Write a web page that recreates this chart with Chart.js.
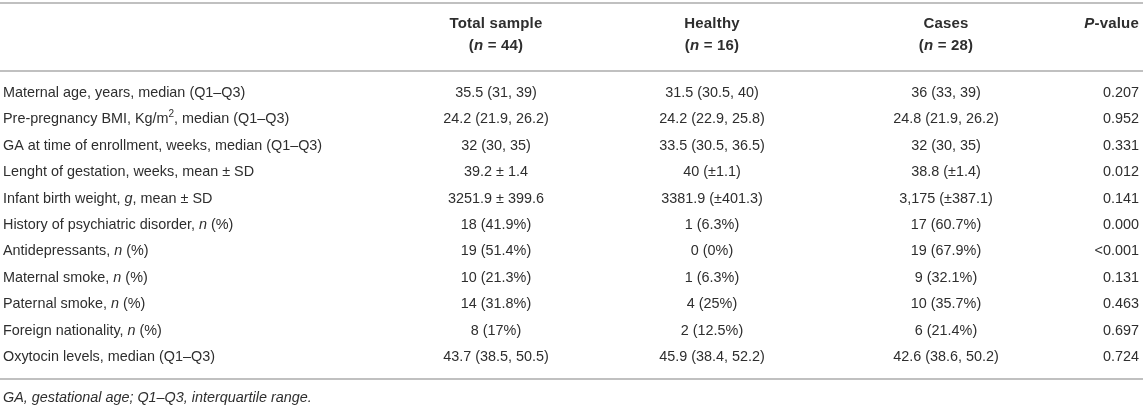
<!DOCTYPE html>
<html>
<head>
<meta charset="utf-8">
<script src="https://cdn.jsdelivr.net/npm/chart.js@4/dist/chart.umd.min.js"></script>
<style>
  html, body { margin: 0; padding: 0; background: #fff; }
  #tableChart { display: block; }
</style>
</head>
<body>
<canvas id="tableChart" width="1143" height="406"></canvas>
<script>
// table content (*x* = italic, ^x^ = superscript)
const headTop = ['', 'Total sample', 'Healthy', 'Cases', '*P*-value'];
const headBottom = ['', '(*n* = 44)', '(*n* = 16)', '(*n* = 28)', ''];

const rowLabels = [
  'Maternal age, years, median (Q1–Q3)',
  'Pre-pregnancy BMI, Kg/m^2^, median (Q1–Q3)',
  'GA at time of enrollment, weeks, median (Q1–Q3)',
  'Lenght of gestation, weeks, mean ± SD',
  'Infant birth weight, *g*, mean ± SD',
  'History of psychiatric disorder, *n* (%)',
  'Antidepressants, *n* (%)',
  'Maternal smoke, *n* (%)',
  'Paternal smoke, *n* (%)',
  'Foreign nationality, *n* (%)',
  'Oxytocin levels, median (Q1–Q3)'
];
const totalSample = ['35.5 (31, 39)', '24.2 (21.9, 26.2)', '32 (30, 35)', '39.2 ± 1.4', '3251.9 ± 399.6',
  '18 (41.9%)', '19 (51.4%)', '10 (21.3%)', '14 (31.8%)', '8 (17%)', '43.7 (38.5, 50.5)'];
const healthy = ['31.5 (30.5, 40)', '24.2 (22.9, 25.8)', '33.5 (30.5, 36.5)', '40 (±1.1)', '3381.9 (±401.3)',
  '1 (6.3%)', '0 (0%)', '1 (6.3%)', '4 (25%)', '2 (12.5%)', '45.9 (38.4, 52.2)'];
const cases = ['36 (33, 39)', '24.8 (21.9, 26.2)', '32 (30, 35)', '38.8 (±1.4)', '3,175 (±387.1)',
  '17 (60.7%)', '19 (67.9%)', '9 (32.1%)', '10 (35.7%)', '6 (21.4%)', '42.6 (38.6, 50.2)'];
const pValues = ['0.207', '0.952', '0.331', '0.012', '0.141', '0.000', '<0.001', '0.131', '0.463', '0.697', '0.724'];
const footnote = '*GA, gestational age; Q1–Q3, interquartile range.*';

// layout (scale units: x in px across the table, y in row index)
const colAnchor = [3, 496, 712, 946, 1139];
const colAlign = ['left', 'center', 'center', 'center', 'right'];
const headRows = [-2.62, -1.8];
const ruleRows = [-3.41, -0.83, 10.83];
const footRow = 11.55;

const FONT = '"Liberation Sans", Arial, Helvetica, sans-serif';
const INK = '#2e2e2e';

function parseRich(str) {
  return str.split(/(\*[^*]+\*|\^[^^]+\^)/).filter(s => s).map(s => {
    if (s[0] === '*') return { text: s.slice(1, -1), italic: true };
    if (s[0] === '^') return { text: s.slice(1, -1), sup: true };
    return { text: s };
  });
}

function drawRich(ctx, str, x, y, align, bold) {
  const segs = parseRich(str);
  const size = bold ? 15 : 14.4;
  const fontFor = seg => (seg.italic ? 'italic ' : '') + (bold ? 'bold ' : '') +
    (seg.sup ? 10 : size) + 'px ' + FONT;
  ctx.letterSpacing = bold ? '0.2px' : '0px';
  let width = 0;
  segs.forEach(seg => { ctx.font = fontFor(seg); seg.w = ctx.measureText(seg.text).width; width += seg.w; });
  let cx = x;
  if (align === 'center') cx = x - width / 2;
  if (align === 'right') cx = x - width;
  ctx.textAlign = 'left';
  ctx.textBaseline = 'middle';
  ctx.fillStyle = INK;
  segs.forEach(seg => {
    ctx.font = fontFor(seg);
    ctx.fillText(seg.text, cx, seg.sup ? y - 5 : y);
    cx += seg.w;
  });
}

// one dataset per column, one point per cell
const columns = [rowLabels, totalSample, healthy, cases, pValues];
const datasets = columns.map((col, c) => ({
  label: 'col' + c,
  data: col.map((txt, r) => ({ x: colAnchor[c], y: r })),
  texts: col,
  pointRadius: 0,
  pointHoverRadius: 0
}));

const tablePlugin = {
  id: 'tablePlugin',
  afterDatasetsDraw(chart) {
    const ctx = chart.ctx;
    const { x: xs, y: ys } = chart.scales;
    const area = chart.chartArea;
    ctx.save();

    // horizontal rules
    ctx.strokeStyle = '#ababab';
    ctx.lineWidth = 1.5;
    ruleRows.forEach(r => {
      const py = ys.getPixelForValue(r);
      ctx.beginPath();
      ctx.moveTo(area.left, py);
      ctx.lineTo(area.right, py);
      ctx.stroke();
    });

    // header
    headTop.forEach((t, c) => {
      if (t) drawRich(ctx, t, xs.getPixelForValue(colAnchor[c]), ys.getPixelForValue(headRows[0]), colAlign[c], true);
    });
    headBottom.forEach((t, c) => {
      if (t) drawRich(ctx, t, xs.getPixelForValue(colAnchor[c]), ys.getPixelForValue(headRows[1]), colAlign[c], true);
    });

    // body cells
    chart.data.datasets.forEach((ds, c) => {
      const meta = chart.getDatasetMeta(c);
      meta.data.forEach((pt, r) => {
        drawRich(ctx, ds.texts[r], pt.x, pt.y, colAlign[c], false);
      });
    });

    // footnote
    drawRich(ctx, footnote, xs.getPixelForValue(colAnchor[0]), ys.getPixelForValue(footRow), 'left', false);
    ctx.restore();
  }
};

new Chart(document.getElementById('tableChart'), {
  type: 'scatter',
  data: { datasets },
  options: {
    responsive: false,
    animation: false,
    layout: { padding: 0 },
    plugins: { legend: { display: false }, tooltip: { enabled: false } },
    events: [],
    scales: {
      x: { type: 'linear', display: false, min: 0, max: 1143 },
      y: { type: 'linear', display: false, reverse: true, min: -3.523, max: 11.856 }
    }
  },
  plugins: [tablePlugin]
});
</script>
</body>
</html>
